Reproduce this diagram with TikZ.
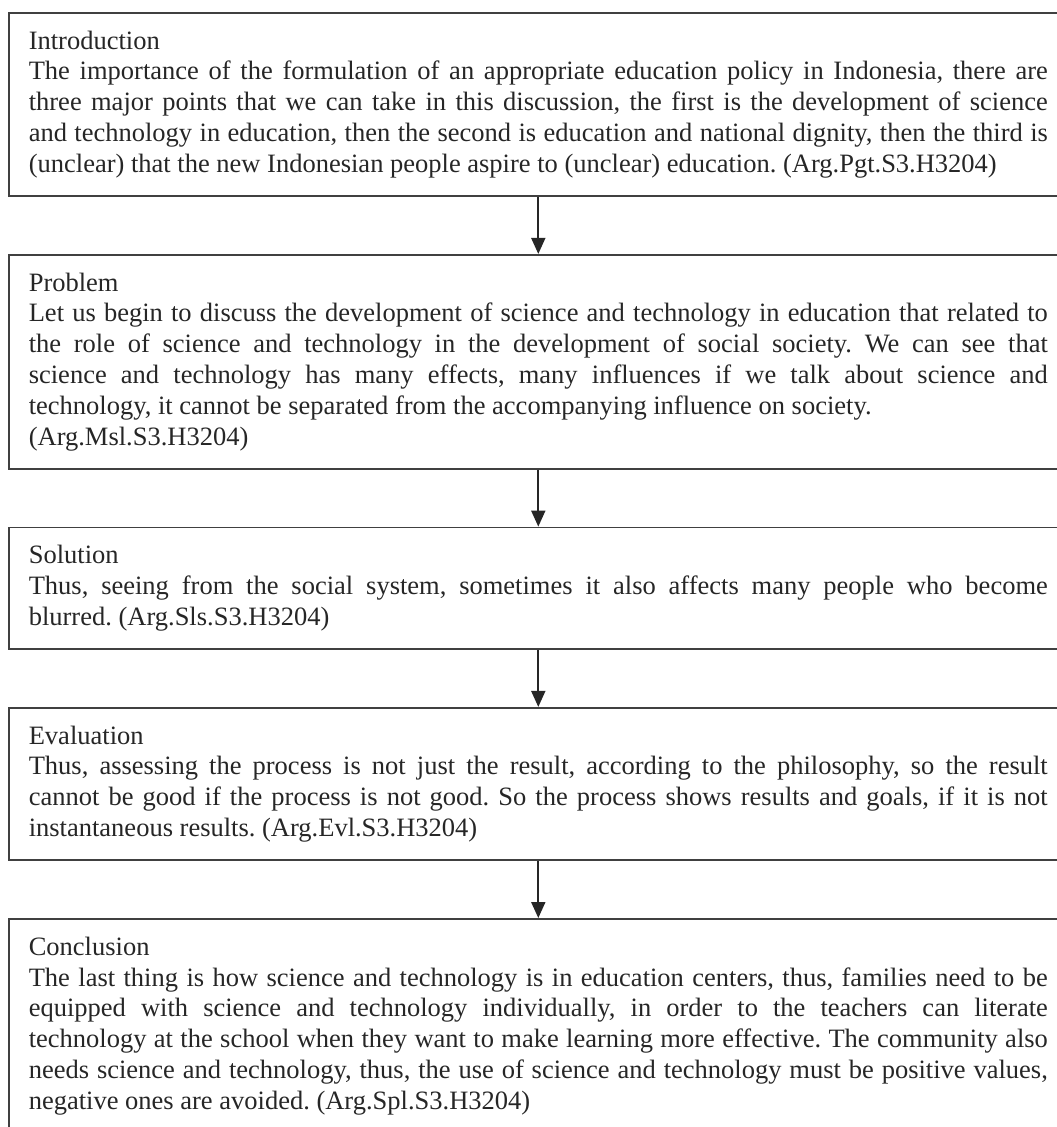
\documentclass[tikz,border=0pt]{standalone}
\usepackage{fontspec}
\setmainfont{Liberation Serif}
\usetikzlibrary{positioning,arrows.meta}
\tikzset{
  stage/.style={draw=black!75,line width=1.6pt,text width=1019pt,inner xsep=20pt,inner ysep=18pt,
    align=justify,font=\fontsize{26.5pt}{30.8pt}\selectfont\frenchspacing,text=black!85},
  flow/.style={line width=1.8pt,draw=black!85,-{Triangle[length=16pt,width=14pt]}}
}
\begin{document}
\begin{tikzpicture}[node distance=57pt]
  \useasboundingbox (0,0) rectangle (1057pt,-1127pt);
  \node[stage,anchor=north west] (intro) at (8pt,-12pt) {Introduction\\
    The importance of the formulation of an appropriate education policy in Indonesia, there are\linebreak
    three major points that we can take in this discussion, the first is the development of science\linebreak
    and technology in education, then the second is education and national dignity, then the third is\linebreak
    (unclear) that the new Indonesian people aspire to (unclear) education. (Arg.Pgt.S3.H3204)};
  \node[stage,below=of intro] (problem) {Problem\\
    Let us begin to discuss the development of science and technology in education that related to\linebreak
    the role of science and technology in the development of social society. We can see that\linebreak
    science and technology has many effects, many influences if we talk about science and\linebreak
    technology, it cannot be separated from the accompanying influence on society.\\
    (Arg.Msl.S3.H3204)};
  \node[stage,below=of problem] (solution) {Solution\\
    Thus, seeing from the social system, sometimes it also affects many people who become\linebreak
    blurred. (Arg.Sls.S3.H3204)};
  \node[stage,below=of solution] (evaluation) {Evaluation\\
    Thus, assessing the process is not just the result, according to the philosophy, so the result\linebreak
    cannot be good if the process is not good. So the process shows results and goals, if it is not\linebreak
    instantaneous results. (Arg.Evl.S3.H3204)};
  \node[stage,below=of evaluation] (conclusion) {Conclusion\\
    The last thing is how science and technology is in education centers, thus, families need to be\linebreak
    equipped with science and technology individually, in order to the teachers can literate\linebreak
    technology at the school when they want to make learning more effective. The community also\linebreak
    needs science and technology, thus, the use of science and technology must be positive values,\linebreak
    negative ones are avoided. (Arg.Spl.S3.H3204)};
  % arrows between the stages
  \draw[flow] (intro.south) -- (problem.north);
  \draw[flow] (problem.south) -- (solution.north);
  \draw[flow] (solution.south) -- (evaluation.north);
  \draw[flow] (evaluation.south) -- (conclusion.north);
\end{tikzpicture}
\end{document}
